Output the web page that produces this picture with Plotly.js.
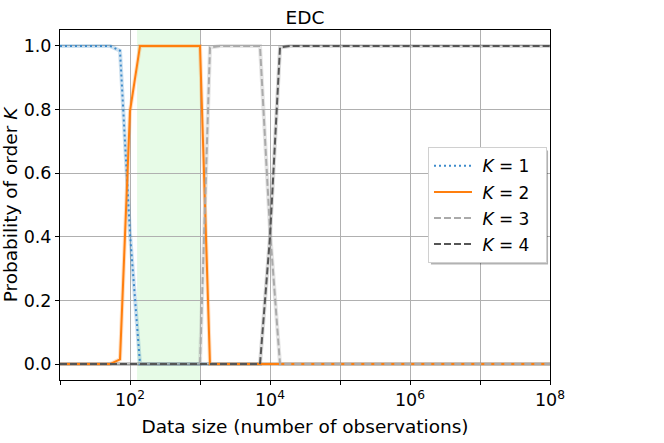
<!DOCTYPE html>
<html>
<head>
<meta charset="utf-8">
<script src="https://cdn.plot.ly/plotly-3.0.1.min.js"></script>
<style>
  html, body { margin: 0; padding: 0; background: #fff; }
  #chart { width: 664px; height: 443px; }
</style>
</head>
<body>
<div id="chart"></div>
<script>
// data sizes (number of observations) at the sampled points
const sizes = [10, 51.8, 72, 100, 139, 193, 1000, 1389, 1931, 7197, 10000, 13895, 19307, 1e8];

// probability of selecting each order K
const probK1 = [1, 1, 0.985, 0.41, 0, 0, 0, 0, 0, 0, 0, 0, 0, 0];
const probK2 = [0, 0, 0.015, 0.795, 1, 1, 1, 0, 0, 0, 0, 0, 0, 0];
const probK3 = [0, 0, 0, 0, 0, 0, 0, 0.995, 1, 1, 0.42, 0, 0, 0];
const probK4 = [0, 0, 0, 0, 0, 0, 0, 0, 0, 0, 0.40, 0.995, 1, 1];

const seriesNames = [
  '\u00a0<i>K</i> = 1\u00a0\u00a0',
  '\u00a0<i>K</i> = 2\u00a0\u00a0',
  '\u00a0<i>K</i> = 3\u00a0\u00a0',
  '\u00a0<i>K</i> = 4\u00a0\u00a0',
];

// highlighted data-size range
const bandStart = 126;
const bandEnd = 1000;

const labelledDecades = [1e2, 1e4, 1e6, 1e8];
const decadeLabels = ['10<sup>2</sup>', '10<sup>4</sup>', '10<sup>6</sup>', '10<sup>8</sup>'];
const otherDecades = [1e1, 1e3, 1e5, 1e7];

const STYLES = [
  { color: '#3d8bcb', halo: 'rgba(31,119,180,0.22)', dash: '2px,3px' },
  { color: '#ff7f0e', halo: 'rgba(255,127,14,0.25)', dash: 'solid' },
  { color: '#aaaaaa', halo: 'rgba(170,170,170,0.3)', dash: '7px,3px' },
  { color: '#555555', halo: 'rgba(85,85,85,0.22)', dash: '7px,3px' },
];

const series = [probK1, probK2, probK3, probK4];

const halos = series.map((y, i) => ({
  x: sizes,
  y,
  type: 'scatter',
  mode: 'lines',
  line: { color: STYLES[i].halo, width: 4 },
  showlegend: false,
  hoverinfo: 'skip',
}));

const lines = series.map((y, i) => ({
  name: seriesNames[i],
  legendgroup: `k${i + 1}`,
  x: sizes,
  y,
  type: 'scatter',
  mode: 'lines',
  line: { color: STYLES[i].color, width: 2, dash: STYLES[i].dash },
}));

const font = { family: 'DejaVu Sans', color: '#000' };

Plotly.newPlot(
  'chart',
  [...halos, ...lines],
  {
    width: 664,
    height: 443,
    margin: { l: 60, r: 114, t: 30, b: 63 },
    paper_bgcolor: '#fff',
    plot_bgcolor: '#fff',
    font: { ...font, size: 17 },
    title: {
      text: 'EDC',
      font: { ...font, size: 18.5 },
      x: 0.5,
      xref: 'paper',
      y: 1,
      yref: 'paper',
      yanchor: 'bottom',
      pad: { b: 6 },
    },
    xaxis: {
      type: 'log',
      range: [1, 8],
      tickvals: labelledDecades,
      ticktext: decadeLabels,
      ticks: 'outside',
      ticklen: 4,
      tickcolor: '#000',
      minor: {
        tickvals: otherDecades,
        ticks: 'outside',
        ticklen: 4,
        tickcolor: '#000',
        showgrid: true,
        gridcolor: '#b0b0b0',
        gridwidth: 1,
      },
      showline: true,
      mirror: true,
      linecolor: '#000',
      linewidth: 1,
      showgrid: true,
      gridcolor: '#b0b0b0',
      gridwidth: 1,
      zeroline: false,
      tickfont: { ...font, size: 17.5 },
      title: { text: 'Data size (number of observations)', font: { ...font, size: 18.5 }, standoff: 11 },
    },
    yaxis: {
      range: [-0.05, 1.05],
      tickvals: [0, 0.2, 0.4, 0.6, 0.8, 1.0],
      tickformat: '.1f',
      ticks: 'outside',
      ticklen: 4,
      tickcolor: '#000',
      showline: true,
      mirror: true,
      linecolor: '#000',
      linewidth: 1,
      showgrid: true,
      gridcolor: '#b0b0b0',
      gridwidth: 1,
      zeroline: false,
      tickfont: { ...font, size: 17.5 },
      title: { text: 'Probability of order <i>K</i>', font: { ...font, size: 18.5 }, standoff: 4 },
    },
    shapes: [
      {
        type: 'rect',
        xref: 'x',
        yref: 'paper',
        x0: bandStart,
        x1: bandEnd,
        y0: 0,
        y1: 1,
        fillcolor: 'rgba(144,238,144,0.22)',
        line: { width: 0 },
        layer: 'below',
      },
      {
        // legend shadow
        type: 'rect',
        xref: 'paper',
        yref: 'paper',
        x0: 0.757,
        x1: 0.996,
        y0: 0.330,
        y1: 0.656,
        fillcolor: 'rgba(0,0,0,0.3)',
        line: { width: 0 },
        layer: 'above',
      },
    ],
    showlegend: true,
    legend: {
      x: 0.751,
      y: 0.665,
      xanchor: 'left',
      yanchor: 'top',
      bgcolor: '#fff',
      bordercolor: '#d0d0d0',
      borderwidth: 1,
      itemwidth: 38,
      font: { ...font, size: 17 },
      tracegroupgap: 1,
    },
  },
  { displayModeBar: false, staticPlot: true },
);
</script>
</body>
</html>
